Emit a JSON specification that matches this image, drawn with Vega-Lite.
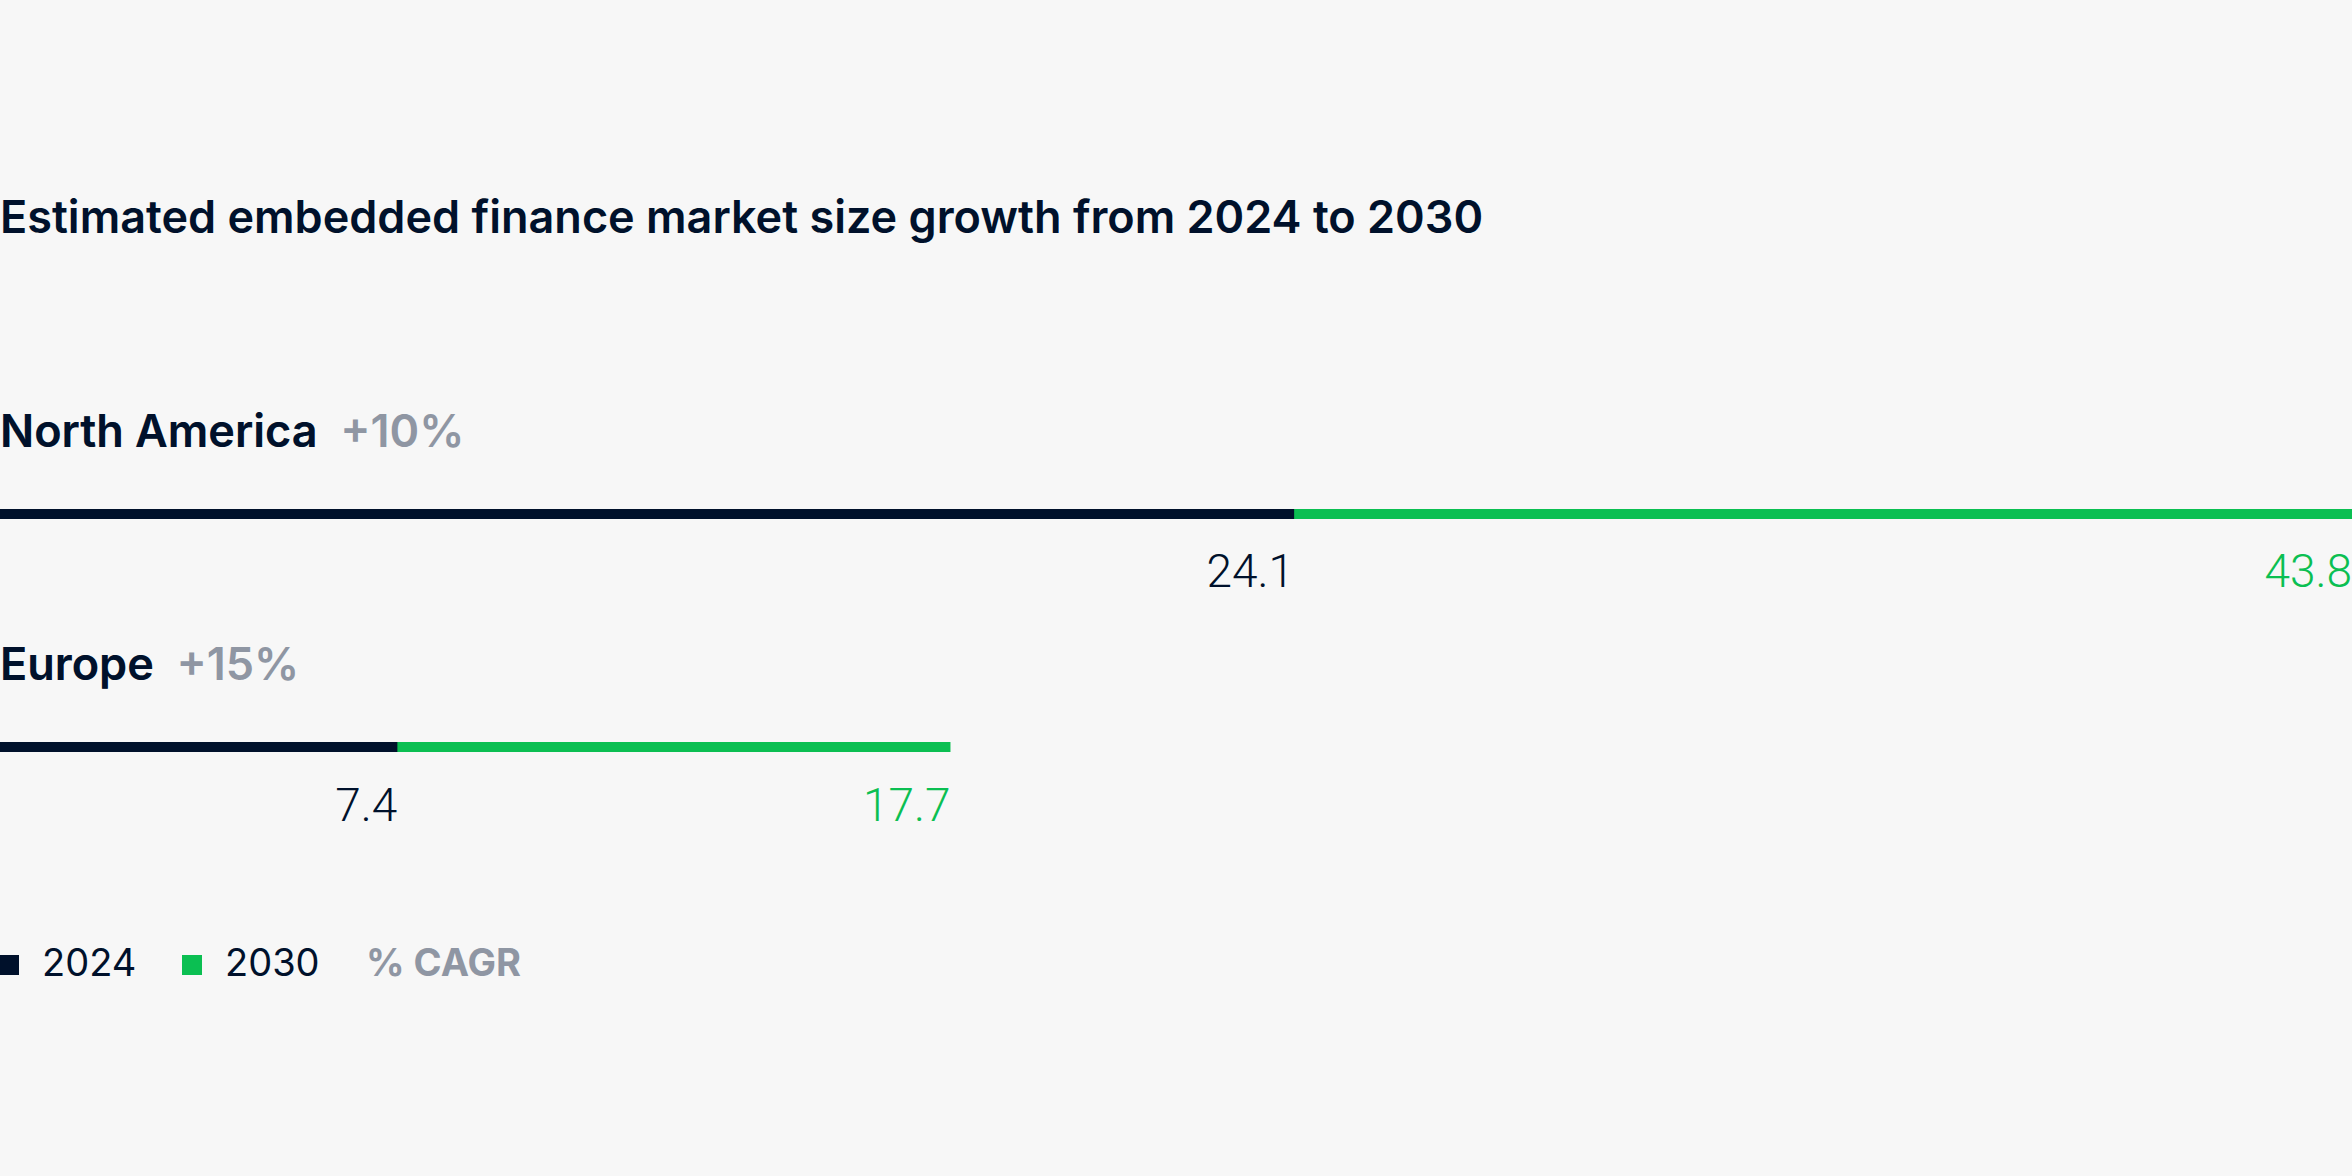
{
  "$schema": "https://vega.github.io/schema/vega-lite/v6.json",
  "width": 2352,
  "height": 661,
  "autosize": {"type": "none"},
  "padding": {"top": 300, "left": 0, "right": 0, "bottom": 215},
  "background": "#f7f7f7",
  "title": {
    "text": "Estimated embedded finance market size growth from 2024 to 2030",
    "anchor": "start",
    "frame": "group",
    "offset": 22,
    "fontSize": 45,
    "font": "Inter",
    "fontWeight": 600,
    "color": "#00112b",
    "baseline": "alphabetic"
  },
  "config": {"view": {"stroke": null}, "font": "Inter"},
  "datasets": {
    "bars": [
      {"region": "North America", "year": "2030", "value": 43.8},
      {"region": "Europe", "year": "2030", "value": 17.7},
      {"region": "North America", "year": "2024", "value": 24.1},
      {"region": "Europe", "year": "2024", "value": 7.4}
    ],
    "regions": [
      {"region": "North America", "cagr": "+10%"},
      {"region": "Europe", "cagr": "+15%"}
    ]
  },
  "layer": [
    {
      "data": {"name": "bars"},
      "mark": {"type": "bar", "size": 10},
      "encoding": {
        "x": {"field": "value", "type": "quantitative", "stack": null, "axis": null, "scale": {"domain": [0, 43.8], "nice": false, "zero": true}},
        "y": {"field": "region", "type": "nominal", "axis": null, "scale": {"domain": ["North America", "Europe"], "paddingInner": 0, "paddingOuter": 0.418}},
        "color": {
          "field": "year", "type": "nominal",
          "scale": {"domain": ["2024", "2030"], "range": ["#00112b", "#0bbf52"]},
          "legend": {
            "orient": "none", "legendX": -10, "legendY": 646,
            "direction": "horizontal",
            "title": "% CAGR", "titleOrient": "right",
            "titleFontSize": 38, "titleFontWeight": 700, "titleColor": "#8f96a3", "titleFont": "Inter",
            "titlePadding": 46, "titleBaseline": "middle", "titleAnchor": "middle",
            "labelFontSize": 38, "labelColor": "#00112b", "labelFont": "Inter", "labelFontWeight": 400,
            "symbolType": "square", "symbolSize": 400, "symbolStrokeWidth": 0,
            "labelOffset": 14, "columnPadding": 36, "padding": 0
          }
        }
      }
    },
    {
      "data": {"name": "bars"},
      "mark": {"type": "text", "align": "right", "baseline": "alphabetic", "dy": 73.5, "fontSize": 46, "font": "Roboto", "fontWeight": 300},
      "encoding": {
        "x": {"field": "value", "type": "quantitative"},
        "y": {"field": "region", "type": "nominal"},
        "text": {"field": "value", "type": "quantitative", "format": ".1f"},
        "color": {"field": "year", "type": "nominal"}
      }
    },
    {
      "data": {"name": "regions"},
      "transform": [{"calculate": "datum.region + '\u00a0\u00a0' + datum.cagr", "as": "full"}],
      "mark": {"type": "text", "align": "left", "baseline": "alphabetic", "dy": -67, "fontSize": 45, "font": "Inter", "fontWeight": 600, "color": "#8f96a3"},
      "encoding": {
        "x": {"datum": 0, "type": "quantitative"},
        "y": {"field": "region", "type": "nominal"},
        "text": {"field": "full"}
      }
    },
    {
      "data": {"name": "regions"},
      "mark": {"type": "text", "align": "left", "baseline": "alphabetic", "dy": -67, "fontSize": 45, "font": "Inter", "fontWeight": 600, "color": "#00112b"},
      "encoding": {
        "x": {"datum": 0, "type": "quantitative"},
        "y": {"field": "region", "type": "nominal"},
        "text": {"field": "region"}
      }
    }
  ]
}
